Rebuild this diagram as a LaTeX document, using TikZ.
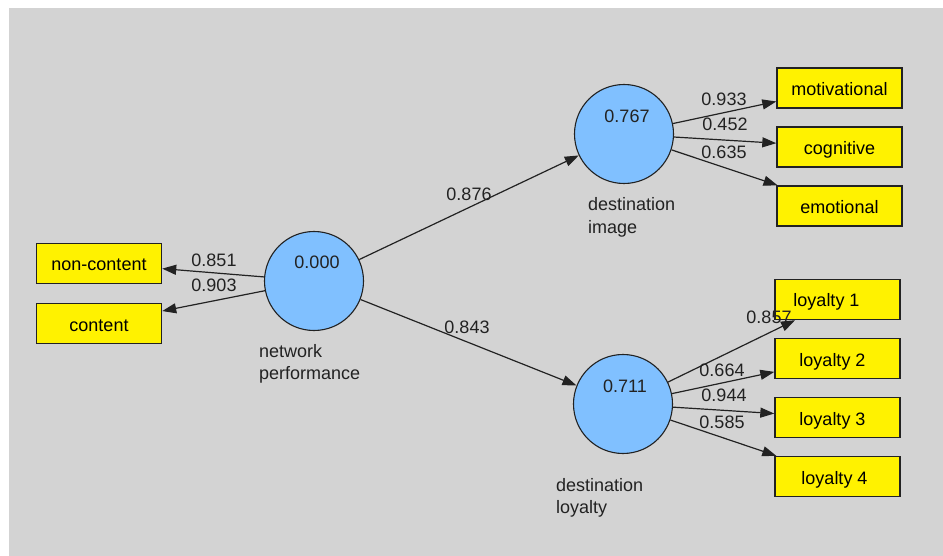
\documentclass[tikz,border=0pt]{standalone}
\usepackage{fontspec}
\setmainfont{Liberation Sans}
\usetikzlibrary{arrows.meta}
\definecolor{bgrey}{RGB}{211,211,211}
\definecolor{lvblue}{RGB}{128,192,255}
\definecolor{inkc}{RGB}{34,34,34}
\begin{document}
\begin{tikzpicture}[x=1pt,y=-1pt,
  latent/.style={circle,draw=inkc,line width=1.1pt,fill=lvblue,minimum size=99pt,inner sep=0pt},
  indbox/.style={rectangle,draw=inkc,line width=1.4pt,fill=yellow,minimum width=125pt,minimum height=40pt,inner sep=0pt,text height=15pt,text depth=0pt,font=\fontsize{18}{22}\selectfont},
  valtext/.style={inner sep=0pt,font=\fontsize{18}{22}\selectfont,text=inkc},
  nametext/.style={inner sep=0pt,align=left,anchor=base west,font=\fontsize{18}{22.5}\selectfont,text=inkc},
  path/.style={draw=inkc,line width=1.2pt,-{Triangle[length=14pt,width=10pt]}}
]
\useasboundingbox[fill=white] (0,0) rectangle (943,556);
\fill[bgrey] (9,8) rectangle (943,556);

% latent variables
\node[latent] (np) at (314,281) {};
\node[latent] (di) at (624,134) {};
\node[latent] (dl) at (623,404) {};
\node[valtext] (npv) at (317,262) {0.000};
\node[valtext] (div) at (627,116) {0.767};
\node[valtext] (dlv) at (625,386) {0.711};
\node[nametext] (npn) at (259,379.5) {network\\performance};
\node[nametext] (din) at (588,233.5) {destination\\image};
\node[nametext] (dln) at (556,513.5) {destination\\loyalty};

% indicators
\node[indbox] (nc) at (99,263.5) {non-content};
\node[indbox] (ct) at (99,323.5) {content};
\node[indbox] (mot) at (839.5,88) {motivational};
\node[indbox] (cog) at (839.5,147) {cognitive};
\node[indbox] (emo) at (839.5,206) {emotional};
\node[indbox] (l1) at (837.5,299.5) {\hspace*{-22pt}loyalty 1};
\node[indbox] (l2) at (837.5,358.5) {\hspace*{-10pt}loyalty 2};
\node[indbox] (l3) at (837.5,417.5) {\hspace*{-10pt}loyalty 3};
\node[indbox] (l4) at (837.5,476.5) {\hspace*{-6pt}loyalty 4};

% paths
\draw[path] (np) -- (nc);
\draw[path] (np) -- (ct);
\draw[path] (np) -- (di);
\draw[path] (np) -- (dl);
\draw[path] (di) -- (mot);
\draw[path] (di) -- (cog);
\draw[path] (di) -- (emo);
\draw[path] (dl) -- (l1);
\draw[path] (dl) -- (l2);
\draw[path] (dl) -- (l3);
\draw[path] (dl) -- (l4);

% coefficients
\node[valtext] (c1) at (214,260) {0.851};
\node[valtext] (c2) at (214,285) {0.903};
\node[valtext] (c3) at (469,194) {0.876};
\node[valtext] (c4) at (467,327) {0.843};
\node[valtext] (c5) at (724,99) {0.933};
\node[valtext] (c6) at (725,124.5) {0.452};
\node[valtext] (c7) at (724,152) {0.635};
\node[valtext] (c8) at (769,317) {0.857};
\node[valtext] (c9) at (722,370) {0.664};
\node[valtext] (c10) at (724,395) {0.944};
\node[valtext] (c11) at (722,422) {0.585};
\end{tikzpicture}
\end{document}
